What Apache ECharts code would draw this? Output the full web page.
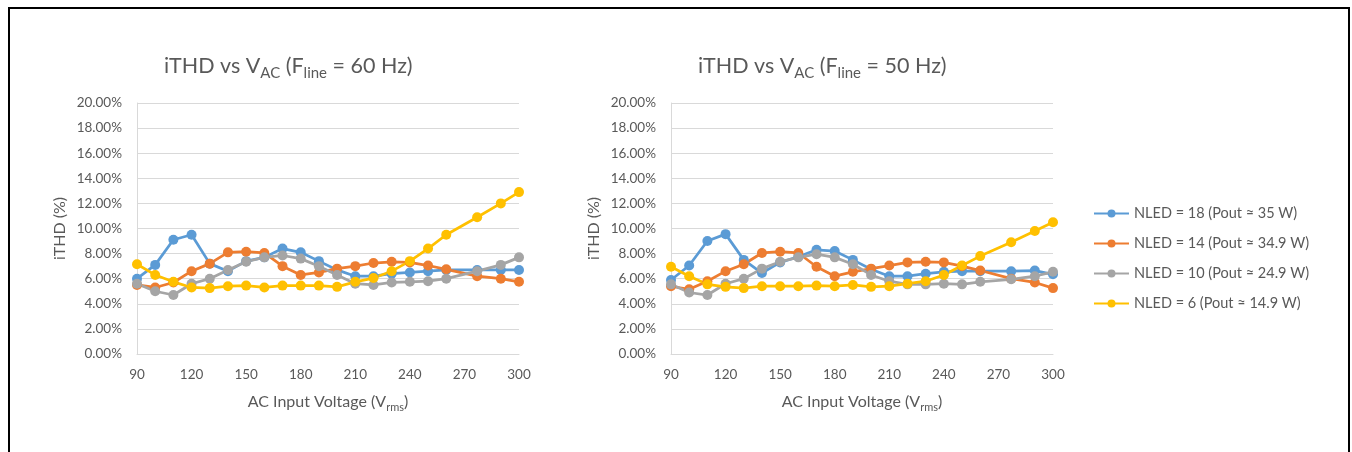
<!DOCTYPE html>
<html>
<head>
<meta charset="utf-8">
<title>iTHD vs VAC</title>
<style>
  html, body { margin: 0; padding: 0; background: #fff; }
  #main { width: 1352px; height: 452px; }
</style>
</head>
<body>
<div id="main"></div>
<script src="https://cdn.jsdelivr.net/npm/echarts@6/dist/echarts.min.js"></script>
<script>
// input voltages (Vrms)
var voltages = [90, 100, 110, 120, 130, 140, 150, 160, 170, 180, 190, 200, 210, 220, 230, 240, 250, 260, 277, 290, 300];
var seriesNames = ['NLED = 18 (Pout \u2248 35 W)', 'NLED = 14 (Pout \u2248 34.9 W)', 'NLED = 10 (Pout \u2248 24.9 W)', 'NLED = 6 (Pout \u2248 14.9 W)'];
var colors = ['#5B9BD5', '#ED7D31', '#A5A5A5', '#FFC000'];

// iTHD (%) at Fline = 60 Hz
var nled18_60 = [6.0, 7.1, 9.1, 9.5, 7.2, 6.6, 7.4, 7.7, 8.4, 8.1, 7.4, 6.7, 6.2, 6.2, 6.4, 6.5, 6.6, 6.7, 6.7, 6.7, 6.7];
var nled14_60 = [5.5, 5.3, 5.7, 6.6, 7.2, 8.1, 8.15, 8.05, 7.0, 6.3, 6.5, 6.8, 7.0, 7.25, 7.35, 7.3, 7.05, 6.75, 6.2, 6.0, 5.75];
var nled10_60 = [5.6, 5.0, 4.7, 5.6, 6.0, 6.7, 7.35, 7.7, 7.85, 7.6, 7.0, 6.3, 5.6, 5.5, 5.7, 5.75, 5.8, 6.0, 6.6, 7.1, 7.7];
var nled6_60 = [7.15, 6.3, 5.75, 5.3, 5.25, 5.4, 5.45, 5.3, 5.45, 5.45, 5.45, 5.35, 5.75, 6.05, 6.6, 7.4, 8.4, 9.5, 10.9, 12.0, 12.9];

// iTHD (%) at Fline = 50 Hz
var nled18_50 = [5.9, 7.05, 9.0, 9.55, 7.5, 6.45, 7.3, 7.75, 8.3, 8.2, 7.5, 6.75, 6.2, 6.2, 6.4, 6.55, 6.6, 6.6, 6.6, 6.65, 6.35];
var nled14_50 = [5.4, 5.15, 5.8, 6.6, 7.15, 8.05, 8.15, 8.05, 6.95, 6.2, 6.55, 6.8, 7.05, 7.3, 7.35, 7.3, 7.0, 6.65, 6.0, 5.7, 5.25];
var nled10_50 = [5.55, 4.9, 4.7, 5.6, 6.0, 6.8, 7.35, 7.7, 7.95, 7.7, 7.15, 6.3, 5.8, 5.55, 5.55, 5.6, 5.55, 5.75, 5.95, 6.2, 6.55];
var nled6_50 = [6.95, 6.2, 5.55, 5.35, 5.25, 5.4, 5.4, 5.4, 5.45, 5.4, 5.5, 5.35, 5.4, 5.6, 5.8, 6.3, 7.05, 7.8, 8.9, 9.8, 10.5];

var data60 = [nled18_60, nled14_60, nled10_60, nled6_60];
var data50 = [nled18_50, nled14_50, nled10_50, nled6_50];

var font = 'Lato, "Liberation Sans", sans-serif';
var grey = '#595959';

function pairs(vals) {
  return voltages.map(function (v, i) { return [v, vals[i]]; });
}

function makeTitle(left, hz) {
  return {
    left: left,
    top: 47,
    text: '{a|iTHD vs V}{s|AC}{a| (F}{s|line}{a| = ' + hz + ' Hz)}',
    textStyle: {
      fontWeight: 'normal',
      rich: {
        a: { fontFamily: font, fontSize: 21.5, fontWeight: 'normal', color: grey, lineHeight: 29 },
        s: { fontFamily: font, fontSize: 15, fontWeight: 'normal', color: grey, verticalAlign: 'bottom' }
      }
    }
  };
}

function makeX(idx) {
  return {
    gridIndex: idx,
    type: 'value',
    min: 90,
    max: 300,
    interval: 30,
    name: '{a|AC Input Voltage (V}{s|rms}{a|)}',
    nameLocation: 'middle',
    nameGap: 37,
    nameTextStyle: {
      rich: {
        a: { fontFamily: font, fontSize: 16, color: grey, lineHeight: 22 },
        s: { fontFamily: font, fontSize: 11, color: grey, verticalAlign: 'bottom' }
      }
    },
    axisLine: { show: true, lineStyle: { color: '#d9d9d9', width: 1 } },
    axisTick: { show: false },
    splitLine: { show: false },
    axisLabel: { color: grey, fontFamily: font, fontSize: 13.5, margin: 14 }
  };
}

function makeY(idx) {
  return {
    gridIndex: idx,
    type: 'value',
    min: 0,
    max: 20,
    interval: 2,
    name: 'iTHD (%)',
    nameLocation: 'middle',
    nameRotate: 90,
    nameGap: 69,
    nameTextStyle: { fontFamily: font, fontSize: 16, color: grey },
    axisLine: { show: true, lineStyle: { color: '#d9d9d9', width: 1 } },
    axisTick: { show: false },
    splitLine: { show: true, lineStyle: { color: '#d9d9d9', width: 1 } },
    axisLabel: {
      color: grey, fontFamily: font, fontSize: 13.5, margin: 15,
      formatter: function (v) { return v.toFixed(2) + '%'; }
    }
  };
}

var series = [];
[data60, data50].forEach(function (set, g) {
  set.forEach(function (vals, k) {
    series.push({
      name: seriesNames[k],
      type: 'line',
      xAxisIndex: g,
      yAxisIndex: g,
      data: pairs(vals),
      symbol: 'circle',
      symbolSize: 10,
      showAllSymbol: true,
      color: colors[k],
      lineStyle: { width: 2.75, color: colors[k] },
      itemStyle: { color: colors[k] },
      animation: false
    });
  });
});

var myChart = echarts.init(document.getElementById('main'));
myChart.setOption({
  backgroundColor: '#ffffff',
  animation: false,
  color: colors,
  title: [makeTitle(159, 60), makeTitle(693, 50)],
  grid: [
    { left: 137, right: 833, top: 103, bottom: 98 },
    { left: 671, right: 299, top: 103, bottom: 98 }
  ],
  xAxis: [makeX(0), makeX(1)],
  yAxis: [makeY(0), makeY(1)],
  legend: {
    orient: 'vertical',
    left: 1088,
    top: 201,
    padding: 5,
    itemWidth: 35,
    itemHeight: 10,
    itemGap: 15,
    textStyle: { fontFamily: font, fontSize: 14.5, color: grey },
    data: seriesNames
  },
  graphic: [{
    type: 'rect',
    shape: { x: 9, y: 8, width: 1340, height: 470 },
    style: { fill: 'none', stroke: '#000', lineWidth: 2 },
    silent: true
  }],
  series: series
});
</script>
</body>
</html>
